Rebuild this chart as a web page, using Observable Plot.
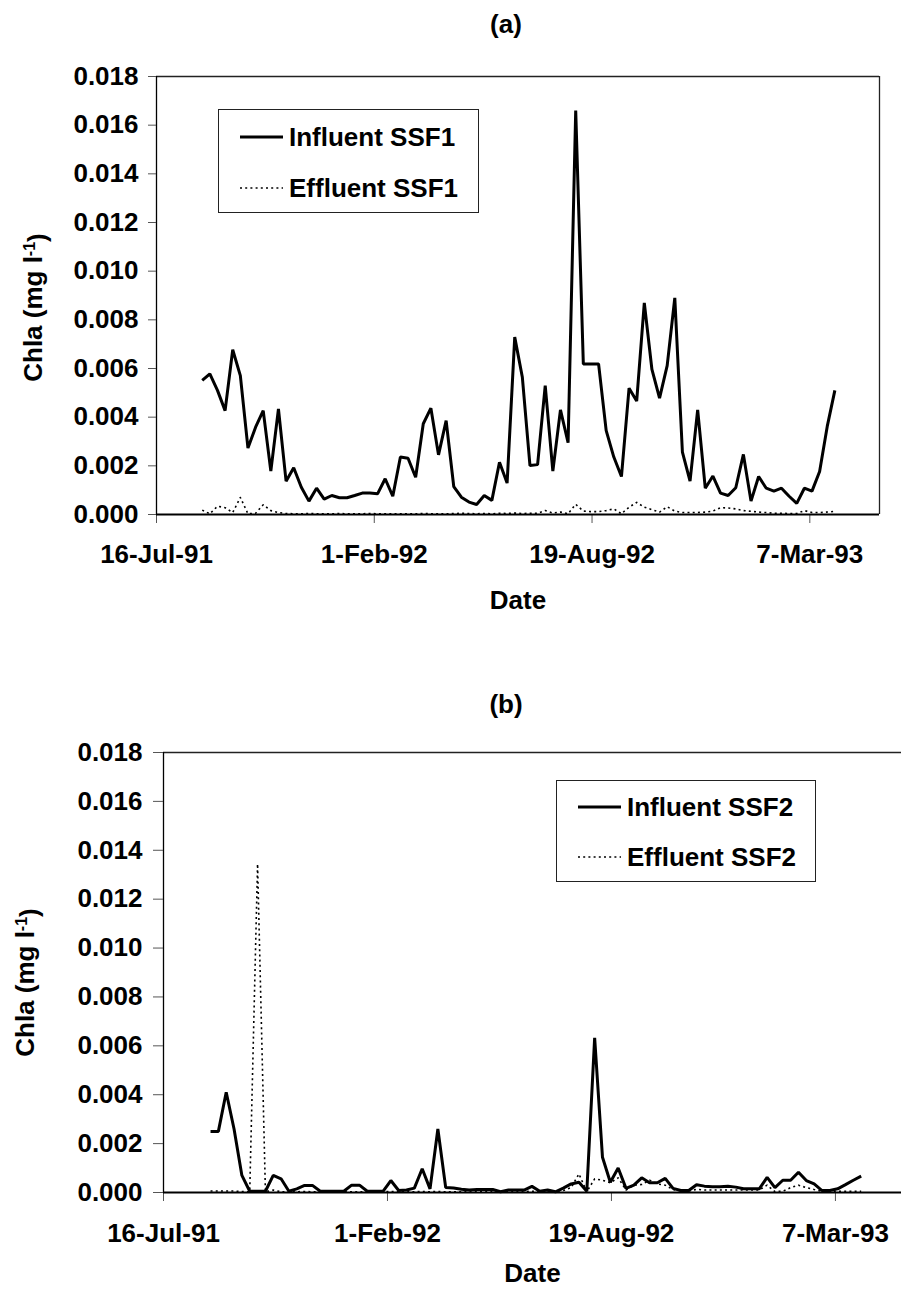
<!DOCTYPE html>
<html>
<head>
<meta charset="utf-8">
<script src="https://cdn.jsdelivr.net/npm/d3@7"></script>
<script src="https://cdn.jsdelivr.net/npm/@observablehq/plot@0.6"></script>
<style>
  html, body { margin: 0; padding: 0; background: #fff; }
  body { width: 901px; height: 1290px; position: relative; overflow: hidden;
         font-family: "Liberation Sans", Arial, sans-serif; font-weight: bold; color: #000; }
  .panel { position: absolute; left: 0; }
  .title { position: absolute; font-size: 26px; font-weight: bold; transform: translate(-50%, -50%); white-space: nowrap; }
  .legend { position: absolute; border: 1px solid #222; background: #fff; box-sizing: border-box; }
  .legend .row { position: absolute; left: 0; height: 30px; display: flex; align-items: center; white-space: nowrap; font-size: 26px; }
  .legend svg { display: block; }
</style>
</head>
<body>
<script>
// ---------- data ----------
const firstSample = "1991-08-27";   // weekly samples
const sampleCount = 84;

const influentSSF1 = [
  0.00551, 0.00578, 0.00510, 0.00427, 0.00677, 0.00571, 0.00273, 0.00359, 0.00427, 0.00178,
  0.00434, 0.00137, 0.00192, 0.00112, 0.00055, 0.00108, 0.00063, 0.00078, 0.00069, 0.00069,
  0.00078, 0.00088, 0.00088, 0.00085, 0.00147, 0.00075, 0.00236, 0.00231, 0.00153, 0.00373,
  0.00437, 0.00245, 0.00386, 0.00115, 0.00071, 0.00051, 0.00041, 0.00078, 0.00058, 0.00215,
  0.00129, 0.00729, 0.00564, 0.00201, 0.00205, 0.00530, 0.00178, 0.00430, 0.00295, 0.01660,
  0.00619, 0.00619, 0.00619, 0.00345, 0.00236, 0.00156, 0.00519, 0.00466, 0.00870, 0.00596,
  0.00478, 0.00612, 0.00890, 0.00256, 0.00137, 0.00430, 0.00108, 0.00158, 0.00088, 0.00078,
  0.00110, 0.00247, 0.00055, 0.00156, 0.00108, 0.00096, 0.00108, 0.00075, 0.00046, 0.00108,
  0.00096, 0.00177, 0.00362, 0.00510
];
const effluentSSF1 = [
  0.00018, 0.00003, 0.00034, 0.00028, 0.00008, 0.00070, 0.00003, 0.00005, 0.00040, 0.00016,
  0.00008, 0.00004, 0.00003, 0.00003, 0.00004, 0.00003, 0.00003, 0.00003, 0.00004, 0.00003,
  0.00003, 0.00003, 0.00004, 0.00003, 0.00003, 0.00003, 0.00003, 0.00003, 0.00003, 0.00004,
  0.00003, 0.00003, 0.00003, 0.00004, 0.00005, 0.00004, 0.00003, 0.00004, 0.00003, 0.00005,
  0.00004, 0.00006, 0.00004, 0.00005, 0.00005, 0.00016, 0.00006, 0.00010, 0.00003, 0.00042,
  0.00014, 0.00012, 0.00012, 0.00016, 0.00023, 0.00003, 0.00030, 0.00050, 0.00030, 0.00020,
  0.00010, 0.00032, 0.00014, 0.00008, 0.00008, 0.00008, 0.00010, 0.00014, 0.00028, 0.00027,
  0.00023, 0.00016, 0.00013, 0.00010, 0.00008, 0.00005, 0.00005, 0.00004, 0.00004, 0.00016,
  0.00008, 0.00008, 0.00010, 0.00013
];
const influentSSF2 = [
  0.00250, 0.00250, 0.00410, 0.00260, 0.00070, 0.00005, 0.00005, 0.00005, 0.00070, 0.00056,
  0.00005, 0.00015, 0.00029, 0.00029, 0.00005, 0.00005, 0.00005, 0.00005, 0.00030, 0.00030,
  0.00005, 0.00005, 0.00005, 0.00049, 0.00008, 0.00010, 0.00018, 0.00097, 0.00015, 0.00260,
  0.00020, 0.00018, 0.00013, 0.00010, 0.00012, 0.00012, 0.00012, 0.00003, 0.00010, 0.00010,
  0.00010, 0.00025, 0.00005, 0.00010, 0.00003, 0.00018, 0.00035, 0.00042, 0.00005, 0.00633,
  0.00144, 0.00042, 0.00100, 0.00017, 0.00030, 0.00060, 0.00040, 0.00040, 0.00058, 0.00017,
  0.00008, 0.00008, 0.00032, 0.00026, 0.00024, 0.00024, 0.00026, 0.00022, 0.00015, 0.00015,
  0.00015, 0.00062, 0.00020, 0.00050, 0.00050, 0.00083, 0.00049, 0.00035, 0.00008, 0.00008,
  0.00015, 0.00032, 0.00050, 0.00067
];
const effluentSSF2 = [
  0.00006, 0.00006, 0.00006, 0.00006, 0.00004, 0.00003, 0.01344, 0.00003, 0.00010, 0.00003,
  0.00003, 0.00003, 0.00004, 0.00003, 0.00003, 0.00003, 0.00003, 0.00004, 0.00003, 0.00003,
  0.00003, 0.00003, 0.00003, 0.00004, 0.00003, 0.00003, 0.00003, 0.00004, 0.00003, 0.00004,
  0.00003, 0.00003, 0.00003, 0.00003, 0.00004, 0.00003, 0.00003, 0.00003, 0.00004, 0.00003,
  0.00004, 0.00005, 0.00004, 0.00004, 0.00005, 0.00008, 0.00020, 0.00076, 0.00003, 0.00056,
  0.00050, 0.00040, 0.00060, 0.00010, 0.00030, 0.00033, 0.00050, 0.00035, 0.00030, 0.00012,
  0.00006, 0.00006, 0.00013, 0.00010, 0.00010, 0.00010, 0.00010, 0.00010, 0.00010, 0.00010,
  0.00010, 0.00030, 0.00004, 0.00005, 0.00020, 0.00030, 0.00020, 0.00012, 0.00005, 0.00005,
  0.00005, 0.00005, 0.00005, 0.00005
];

const yTicks = [0, 0.002, 0.004, 0.006, 0.008, 0.010, 0.012, 0.014, 0.016, 0.018];
const xTickDates = ["1991-07-16", "1992-02-01", "1992-08-19", "1993-03-07"];
const xTickLabels = ["16-Jul-91", "1-Feb-92", "19-Aug-92", "7-Mar-93"];
const panelTitles = ["(a)", "(b)"];
const seriesNamesA = ["Influent SSF1", "Effluent SSF1"];
const seriesNamesB = ["Influent SSF2", "Effluent SSF2"];
const xLabel = "Date";
const yLabel = "Chla (mg l-1)";

// ---------- build ----------
const parse = d3.utcParse("%Y-%m-%d");
const start = parse(firstSample);
const dates = d3.range(sampleCount).map(i => d3.utcDay.offset(start, 7 * i));
const tickDates = xTickDates.map(parse);

const rowsA = dates.map((d, i) => ({date: d, inf: influentSSF1[i], eff: effluentSSF1[i]}));
const rowsB = dates.map((d, i) => ({date: d, inf: influentSSF2[i], eff: effluentSSF2[i]}));

const FONT = '"Liberation Sans", Arial, sans-serif';
const FS = 26;

function makePanel(rows, cfg) {
  const marks = [
    Plot.ruleY([0.018], {stroke: "#222", strokeWidth: 1.3}),
    Plot.ruleX([cfg.domain[0]], {stroke: "#000", strokeWidth: 1.3}),
    Plot.axisY({ticks: yTicks, tickFormat: d => d.toFixed(3), tickSize: cfg.yTickSize, tickPadding: cfg.yTickPad,
                stroke: "#555", fill: "#000", label: null}),
    Plot.axisX({ticks: tickDates, tickFormat: (d, i) => xTickLabels[i], tickSize: 9, tickPadding: cfg.xTickPad,
                stroke: "#555", fill: "#000", label: null}),
    Plot.line(rows, {x: "date", y: "eff", stroke: "#000", strokeWidth: 1.6, strokeDasharray: "2,3.2", strokeLinecap: "butt"}),
    Plot.line(rows, {x: "date", y: "inf", stroke: "#000", strokeWidth: 3, strokeLinejoin: "miter", strokeLinecap: "butt"}),
    Plot.ruleY([0], {stroke: "#000", strokeWidth: 2.2}),
    Plot.text([xLabel], {frameAnchor: "bottom", text: d => d, dy: cfg.xLabelDy, lineAnchor: "middle",
                         textAnchor: "middle", fontSize: FS, fontWeight: "bold", fill: "#000"}),
    Plot.text([yLabel], {frameAnchor: "left", text: d => d, rotate: -90, dx: cfg.yLabelDx, dy: cfg.yLabelDy,
                         lineAnchor: "middle", textAnchor: "middle", fontSize: FS, fontWeight: "bold", fill: "#000"})
  ];
  if (cfg.rightFrame) marks.push(Plot.ruleX([cfg.domain[1]], {stroke: "#222", strokeWidth: 1.3}));
  const svg = Plot.plot({
    width: 901,
    height: cfg.height,
    marginTop: cfg.mt, marginRight: cfg.mr, marginBottom: cfg.mb, marginLeft: cfg.ml,
    style: {fontFamily: FONT, fontSize: FS + "px", fontWeight: "bold", background: "#fff", color: "#000"},
    x: {type: "utc", domain: cfg.domain},
    y: {domain: [0, 0.018]},
    marks
  });
  // superscript for the unit
  d3.select(svg).selectAll("text").filter(function () { return this.textContent === yLabel; })
    .each(function () {
      const t = d3.select(this);
      t.text(null);
      t.append("tspan").text("Chla (mg l");
      t.append("tspan").attr("dy", "-0.45em").attr("font-size", "16px").text("-1");
      t.append("tspan").attr("dy", "0.45em").text(")");
    });
  const wrap = document.createElement("div");
  wrap.className = "panel";
  wrap.style.top = cfg.top + "px";
  wrap.appendChild(svg);
  document.body.appendChild(wrap);
}

function makeTitle(text, cx, cy) {
  const t = document.createElement("div");
  t.className = "title";
  t.textContent = text;
  t.style.left = cx + "px";
  t.style.top = cy + "px";
  document.body.appendChild(t);
}

function makeLegend(names, box) {
  const lg = document.createElement("div");
  lg.className = "legend";
  Object.assign(lg.style, {left: box.left + "px", top: box.top + "px", width: box.width + "px", height: box.height + "px"});
  names.forEach((name, i) => {
    const row = document.createElement("div");
    row.className = "row";
    row.style.top = (box.rows[i] - 15) + "px";
    const s = d3.create("svg").attr("width", 70).attr("height", 30);
    s.append("line").attr("x1", 21).attr("x2", 64).attr("y1", 15).attr("y2", 15)
      .attr("stroke", "#000")
      .attr("stroke-width", i === 0 ? 3 : 1.6)
      .attr("stroke-dasharray", i === 0 ? null : "2,3.2");
    row.appendChild(s.node());
    const span = document.createElement("span");
    span.textContent = name;
    row.appendChild(span);
    lg.appendChild(row);
  });
  document.body.appendChild(lg);
}

// Panel (a)
makeTitle(panelTitles[0], 506, 24);
makePanel(rowsA, {
  top: 50, height: 580, mt: 26, mr: 22, mb: 116, ml: 156,
  domain: [parse("1991-07-16"), parse("1993-05-10")],
  yTickSize: 8, yTickPad: 10, xTickPad: 21, xLabelDy: 86,
  yLabelDx: -123, yLabelDy: 12, rightFrame: true
});
makeLegend(seriesNamesA, {left: 218, top: 109, width: 261, height: 104, rows: [27, 78]});

// Panel (b)
makeTitle(panelTitles[1], 506, 704);
makePanel(rowsB, {
  top: 730, height: 560, mt: 22, mr: 0, mb: 98, ml: 163,
  domain: [parse("1991-07-16"), parse("1993-05-05")],
  yTickSize: 10, yTickPad: 11, xTickPad: 22, xLabelDy: 81,
  yLabelDx: -138, yLabelDy: 10, rightFrame: false
});
makeLegend(seriesNamesB, {left: 556, top: 780, width: 260, height: 102, rows: [26, 76]});
</script>
</body>
</html>
